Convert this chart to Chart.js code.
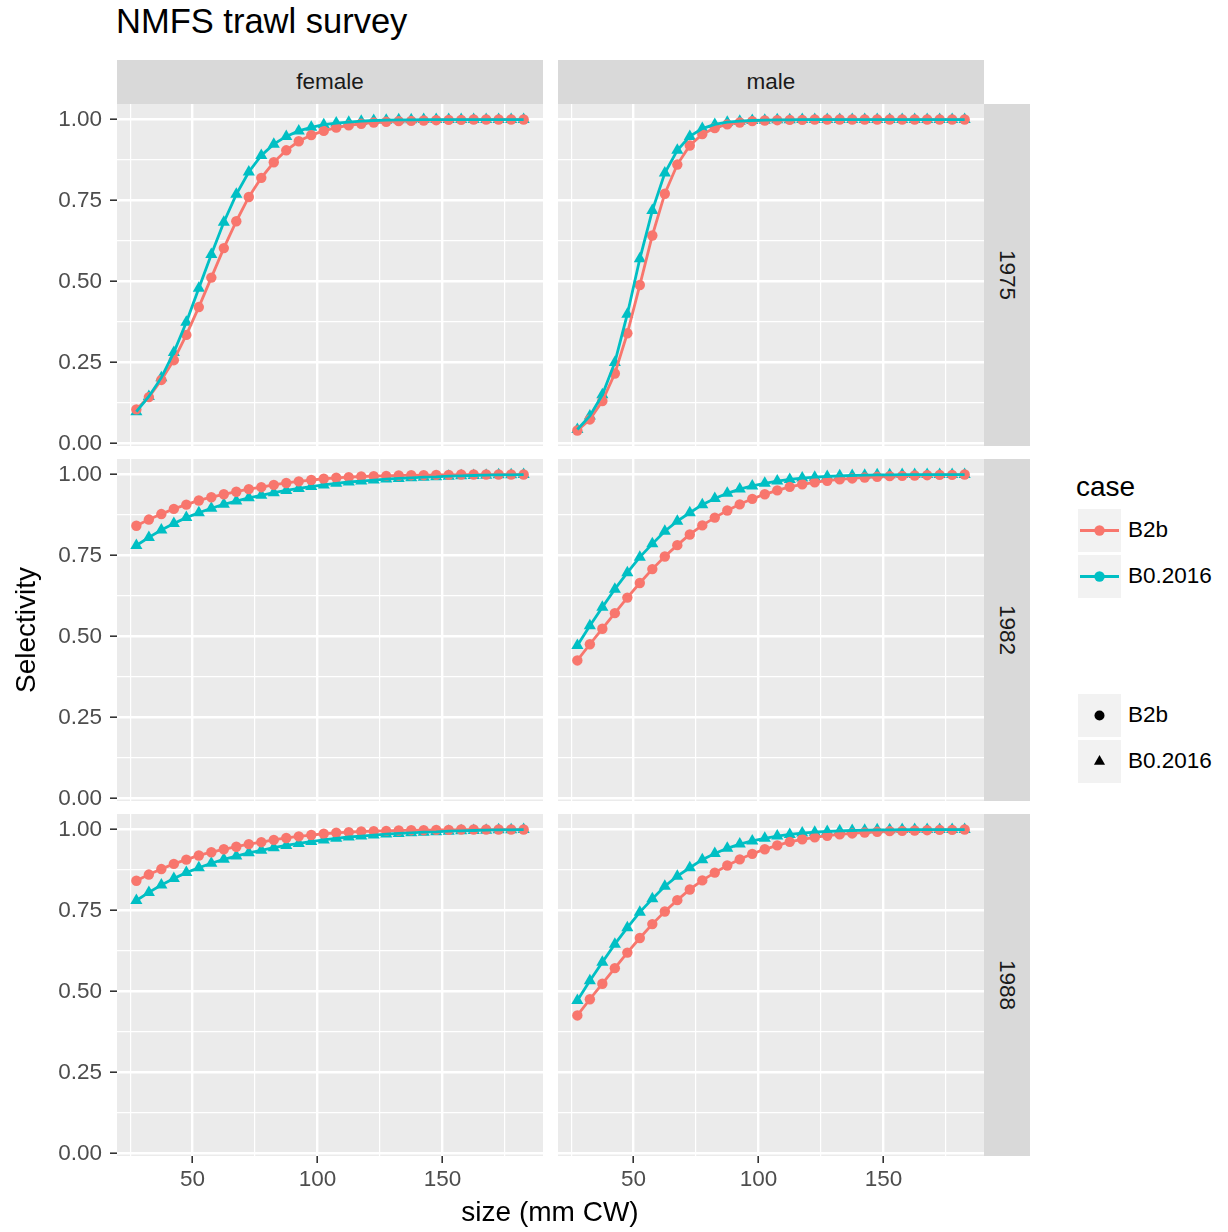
<!DOCTYPE html>
<html>
<head>
<meta charset="utf-8">
<script src="https://cdn.jsdelivr.net/npm/chart.js@4"></script>
<style>
  html, body { margin: 0; padding: 0; background: #ffffff; }
  body { position: relative; width: 1228px; height: 1232px; overflow: hidden;
         font-family: "Liberation Sans", Arial, Helvetica, sans-serif; }
  canvas { position: absolute; }
  .txt { position: absolute; white-space: nowrap; }
  .strip-top { position: absolute; background: #D9D9D9; color: #1A1A1A; font-size: 22.5px;
               text-align: center; }
  .strip-right { position: absolute; background: #D9D9D9; color: #1A1A1A; font-size: 22.5px; }
  .strip-right span { position: absolute; left: 50%; top: 50%; transform: translate(-50%, -50%) rotate(90deg); }
  .key { position: absolute; background: #F2F2F2; }
  .lab { position: absolute; font-size: 22.5px; color: #000; line-height: 26px; }
</style>
</head>
<body>
<script>
// ---------------- data ----------------
const sizes = [27.5, 32.5, 37.5, 42.5, 47.5, 52.5, 57.5, 62.5, 67.5, 72.5, 77.5, 82.5, 87.5, 92.5, 97.5, 102.5,
               107.5, 112.5, 117.5, 122.5, 127.5, 132.5, 137.5, 142.5, 147.5, 152.5, 157.5, 162.5, 167.5, 172.5, 177.5, 182.5];

const sexes = ["female", "male"];
const years = ["1975", "1982", "1988"];
const cases = ["B2b", "B0.2016"];

const female1975B2b = [0.105, 0.143, 0.196, 0.257, 0.335, 0.421, 0.512, 0.603, 0.686, 0.761, 0.820, 0.868, 0.905, 0.933, 0.952, 0.965,
                       0.975, 0.982, 0.987, 0.991, 0.993, 0.995, 0.996, 0.997, 0.998, 0.999, 0.999, 1.000, 1.000, 1.000, 1.000, 1.000];
const female1975B0  = [0.098, 0.145, 0.203, 0.281, 0.374, 0.479, 0.583, 0.683, 0.769, 0.838, 0.889, 0.924, 0.948, 0.965, 0.976, 0.984,
                       0.989, 0.992, 0.995, 0.997, 0.998, 0.999, 0.999, 1.000, 1.000, 1.000, 1.000, 1.000, 1.000, 1.000, 1.000, 1.000];
const male1975B2b   = [0.040, 0.074, 0.131, 0.216, 0.340, 0.489, 0.642, 0.771, 0.861, 0.920, 0.955, 0.974, 0.985, 0.991, 0.995, 0.997,
                       0.998, 0.999, 0.999, 1.000, 1.000, 1.000, 1.000, 1.000, 1.000, 1.000, 1.000, 1.000, 1.000, 1.000, 1.000, 1.000];
const male1975B0    = [0.043, 0.085, 0.150, 0.250, 0.399, 0.570, 0.719, 0.835, 0.905, 0.948, 0.972, 0.985, 0.992, 0.995, 0.997, 0.998,
                       0.999, 0.999, 1.000, 1.000, 1.000, 1.000, 1.000, 1.000, 1.000, 1.000, 1.000, 1.000, 1.000, 1.000, 1.000, 1.000];

const female1982B2b = [0.842, 0.861, 0.878, 0.894, 0.907, 0.920, 0.930, 0.939, 0.947, 0.955, 0.961, 0.968, 0.974, 0.979, 0.983, 0.987,
                       0.990, 0.992, 0.994, 0.995, 0.996, 0.997, 0.998, 0.998, 0.999, 0.999, 1.000, 1.000, 1.000, 1.000, 1.000, 1.000];
const female1982B0  = [0.781, 0.806, 0.829, 0.849, 0.867, 0.882, 0.896, 0.908, 0.918, 0.928, 0.936, 0.944, 0.951, 0.957, 0.963, 0.968,
                       0.973, 0.977, 0.980, 0.983, 0.986, 0.988, 0.990, 0.992, 0.993, 0.995, 0.996, 0.997, 0.998, 0.999, 0.999, 1.000];
const male1982B2b   = [0.426, 0.476, 0.524, 0.572, 0.620, 0.665, 0.708, 0.747, 0.782, 0.815, 0.843, 0.867, 0.889, 0.908, 0.925, 0.939,
                       0.951, 0.962, 0.970, 0.976, 0.981, 0.985, 0.988, 0.991, 0.993, 0.995, 0.996, 0.997, 0.998, 0.999, 0.999, 1.000];
const male1982B0    = [0.472, 0.533, 0.590, 0.646, 0.697, 0.745, 0.786, 0.825, 0.856, 0.882, 0.907, 0.926, 0.942, 0.955, 0.965, 0.973,
                       0.980, 0.985, 0.989, 0.992, 0.994, 0.996, 0.997, 0.998, 0.999, 0.999, 1.000, 1.000, 1.000, 1.000, 1.000, 1.000];

const female1988B2b = [0.842, 0.861, 0.878, 0.894, 0.907, 0.920, 0.930, 0.939, 0.947, 0.955, 0.961, 0.968, 0.974, 0.979, 0.983, 0.987,
                       0.990, 0.992, 0.994, 0.995, 0.996, 0.997, 0.998, 0.998, 0.999, 0.999, 1.000, 1.000, 1.000, 1.000, 1.000, 1.000];
const female1988B0  = [0.781, 0.806, 0.829, 0.849, 0.867, 0.882, 0.896, 0.908, 0.918, 0.928, 0.936, 0.944, 0.951, 0.957, 0.963, 0.968,
                       0.973, 0.977, 0.980, 0.983, 0.986, 0.988, 0.990, 0.992, 0.993, 0.995, 0.996, 0.997, 0.998, 0.999, 0.999, 1.000];
const male1988B2b   = [0.426, 0.476, 0.524, 0.572, 0.620, 0.665, 0.708, 0.747, 0.782, 0.815, 0.843, 0.867, 0.889, 0.908, 0.925, 0.939,
                       0.951, 0.962, 0.970, 0.976, 0.981, 0.985, 0.988, 0.991, 0.993, 0.995, 0.996, 0.997, 0.998, 0.999, 0.999, 1.000];
const male1988B0    = [0.472, 0.533, 0.590, 0.646, 0.697, 0.745, 0.786, 0.825, 0.856, 0.882, 0.907, 0.926, 0.942, 0.955, 0.965, 0.973,
                       0.980, 0.985, 0.989, 0.992, 0.994, 0.996, 0.997, 0.998, 0.999, 0.999, 1.000, 1.000, 1.000, 1.000, 1.000, 1.000];

const xMajorTicks = [50, 100, 150];
const xMinorTicks = [25, 75, 125, 175];
const yMajorTicks = [0, 0.25, 0.5, 0.75, 1];
const yTickLabels = ["0.00", "0.25", "0.50", "0.75", "1.00"];
const yMinorTicks = [0.125, 0.375, 0.625, 0.875];

// ---------------- style / layout ----------------
const RED = "#F8766D", CYAN = "#00BFC4";
const FONT = "'Liberation Sans', Arial, Helvetica, sans-serif";
Chart.defaults.font.family = FONT;

const COL_LEFT = [117, 558], COL_RIGHT = [543, 984];
const ROW_TOP = [104, 459, 814], PANEL_H = 342;

const panelData = {
  "female-1975": [female1975B2b, female1975B0], "male-1975": [male1975B2b, male1975B0],
  "female-1982": [female1982B2b, female1982B0], "male-1982": [male1982B2b, male1982B0],
  "female-1988": [female1988B2b, female1988B0], "male-1988": [male1988B2b, male1988B0]
};

// ggplot-style 5% expansion of the data range
const allVals = Object.values(panelData).flat(2);
const yLo = Math.min(...allVals), yHi = Math.max(...allVals);
const yMin = yLo - 0.05 * (yHi - yLo), yMax = yHi + 0.05 * (yHi - yLo);
const xLo = sizes[0], xHi = sizes[sizes.length - 1];
const xMin = xLo - 0.05 * (xHi - xLo), xMax = xHi + 0.05 * (xHi - xLo);

const xGrid = [...xMinorTicks, ...xMajorTicks].sort((a, b) => a - b);
const yGrid = [...yMinorTicks, ...yMajorTicks].sort((a, b) => a - b);

const panelBg = {
  id: "panelBg",
  beforeDraw(chart) {
    const a = chart.chartArea, c = chart.ctx;
    c.save(); c.fillStyle = "#EBEBEB"; c.fillRect(a.left, a.top, a.right - a.left, a.bottom - a.top); c.restore();
  }
};

function noPad(s) { s.paddingTop = 0; s.paddingBottom = 0; s.paddingLeft = 0; s.paddingRight = 0; }

function makePanel(row, col) {
  const key = sexes[col] + "-" + years[row];
  const [b2b, b0] = panelData[key];
  const left = col === 0 ? 0 : COL_LEFT[1];
  const yW = COL_LEFT[col] - left;
  const w = COL_RIGHT[col] - left;
  const showX = row === 2, showY = col === 0;
  const xH = showX ? 44 : 12;
  const h = PANEL_H + xH;
  const cv = document.createElement("canvas");
  cv.width = w; cv.height = h;
  cv.style.left = left + "px"; cv.style.top = ROW_TOP[row] + "px";
  cv.style.width = w + "px"; cv.style.height = h + "px";
  document.body.appendChild(cv);
  const pts = arr => sizes.map((x, i) => ({ x: x, y: arr[i] }));
  const isMaj = (c, list) => c && c.tick && list.includes(c.tick.value);
  new Chart(cv, {
    type: "line",
    data: {
      datasets: [
        { label: cases[1] + " line", data: pts(b0), borderColor: CYAN, borderWidth: 2.8, pointRadius: 0, tension: 0, order: 0 },
        { label: cases[0] + " line", data: pts(b2b), borderColor: RED, borderWidth: 2.8, pointRadius: 0, tension: 0, order: 1 },
        { label: cases[0], data: pts(b2b), showLine: false, pointStyle: "circle", pointRadius: 5.2,
          backgroundColor: RED, borderColor: RED, borderWidth: 0, order: 2 },
        { label: cases[1], data: pts(b0), showLine: false, pointStyle: "triangle", pointRadius: 7,
          backgroundColor: CYAN, borderColor: CYAN, borderWidth: 0, order: 3 }
      ]
    },
    options: {
      responsive: false, maintainAspectRatio: false, animation: false, devicePixelRatio: 1, events: [],
      layout: { padding: 0, autoPadding: false },
      plugins: { legend: { display: false }, tooltip: { enabled: false } },
      scales: {
        x: {
          type: "linear", min: xMin, max: xMax, offset: false,
          afterBuildTicks: s => { s.ticks = xGrid.map(v => ({ value: v })); },
          afterFit: s => { s.height = xH; noPad(s); },
          border: { display: false },
          grid: {
            color: "#FFFFFF", lineWidth: c => isMaj(c, xMajorTicks) ? 2.4 : 1.2,
            drawTicks: showX, tickLength: 7, tickWidth: 1.6,
            tickColor: c => isMaj(c, xMajorTicks) ? "#333333" : "rgba(0,0,0,0)"
          },
          ticks: {
            display: showX, autoSkip: false, maxRotation: 0, minRotation: 0, padding: 3,
            color: "#4D4D4D", font: { size: 22.5 },
            callback: v => xMajorTicks.includes(v) ? String(v) : ""
          }
        },
        y: {
          type: "linear", min: yMin, max: yMax,
          afterBuildTicks: s => { s.ticks = yGrid.map(v => ({ value: v })); },
          afterFit: s => { s.width = yW; noPad(s); },
          border: { display: false },
          grid: {
            color: "#FFFFFF", lineWidth: c => isMaj(c, yMajorTicks) ? 2.4 : 1.2,
            drawTicks: showY, tickLength: 7, tickWidth: 1.6,
            tickColor: c => isMaj(c, yMajorTicks) ? "#333333" : "rgba(0,0,0,0)"
          },
          ticks: {
            display: showY, autoSkip: false, padding: 8, color: "#4D4D4D", font: { size: 22.5 },
            callback: v => { const i = yMajorTicks.indexOf(v); return i >= 0 ? yTickLabels[i] : ""; }
          }
        }
      }
    },
    plugins: [panelBg]
  });
}

for (let r = 0; r < 3; r++) for (let c = 0; c < 2; c++) makePanel(r, c);

// ---------------- text: title, strips, axis titles ----------------
function addDiv(cls, html, style) {
  const d = document.createElement("div");
  d.className = cls; d.innerHTML = html;
  Object.assign(d.style, style);
  document.body.appendChild(d);
  return d;
}
addDiv("txt", "NMFS trawl survey", { left: "116px", top: "4px", fontSize: "34.5px", lineHeight: "34px", color: "#000" });
sexes.forEach((s, c) => {
  addDiv("strip-top", s, { left: COL_LEFT[c] + "px", top: "60px", width: (COL_RIGHT[c] - COL_LEFT[c]) + "px",
                           height: "44px", lineHeight: "44px" });
});
years.forEach((y, r) => {
  addDiv("strip-right", "<span>" + y + "</span>", { left: "984px", top: ROW_TOP[r] + "px", width: "46px", height: PANEL_H + "px" });
});
addDiv("txt", "Selectivity", { left: "26px", top: "630px", fontSize: "28px", color: "#000",
                               transform: "translate(-50%, -50%) rotate(-90deg)" });
addDiv("txt", "size (mm CW)", { left: "550px", top: "1212px", fontSize: "28px", color: "#000",
                                transform: "translate(-50%, -50%)" });

// ---------------- legends ----------------
addDiv("txt", "case", { left: "1076px", top: "472px", fontSize: "28px", lineHeight: "30px", color: "#000" });
const colKeyTop = [509, 555];
const shpKeyTop = [694, 740];
const colors = [RED, CYAN];
cases.forEach((cs, i) => {
  addDiv("key", '<svg width="43" height="43"><line x1="2" y1="21.5" x2="41" y2="21.5" stroke="' + colors[i] +
         '" stroke-width="2.8"/><circle cx="21.5" cy="21.5" r="5.2" fill="' + colors[i] + '"/></svg>',
         { left: "1078px", top: colKeyTop[i] + "px", width: "43px", height: "43px" });
  addDiv("lab", cs, { left: "1128px", top: (colKeyTop[i] + 8) + "px" });
  const shape = i === 0 ? '<circle cx="21.5" cy="21.5" r="5" fill="#000"/>'
                        : '<polygon points="21.5,15.1 27.04,24.7 15.96,24.7" fill="#000"/>';
  addDiv("key", '<svg width="43" height="43">' + shape + '</svg>',
         { left: "1078px", top: shpKeyTop[i] + "px", width: "43px", height: "43px" });
  addDiv("lab", cs, { left: "1128px", top: (shpKeyTop[i] + 8) + "px" });
});
</script>
</body>
</html>
